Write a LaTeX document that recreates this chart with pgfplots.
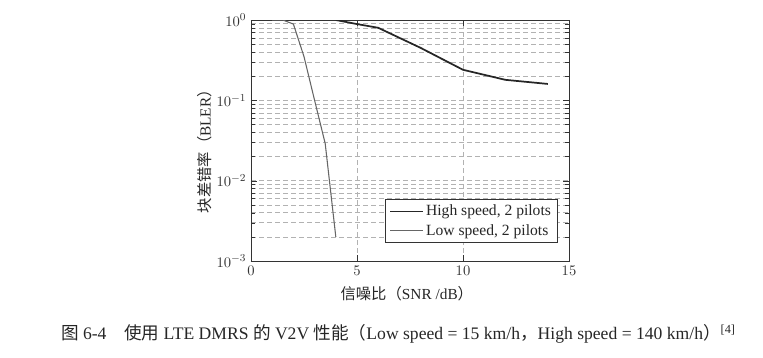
\documentclass[border=0pt]{standalone}
\usepackage{pgfplots}
\pgfplotsset{compat=1.18}
\usepackage{fontspec}
\setmainfont{Liberation Serif}
\newfontfamily\cjk{Noto Sans CJK SC}

\begin{document}
\begin{tikzpicture}
\useasboundingbox (-188.25pt,-72pt) rectangle (384pt,195.75pt);
\begin{axis}[
  scale only axis, width=238.5pt, height=180.75pt,
  at={(0,0)}, anchor=south west,
  xmin=0, xmax=15, ymin=1e-3, ymax=1,
  ymode=log,
  xtick={0,5,10,15},
  ytick={1e-3,1e-2,1e-1,1},
  tick align=inside,
  xmajorgrids, ymajorgrids, yminorgrids,
  major grid style={dash pattern=on 4pt off 2pt, black!30},
  minor grid style={dash pattern=on 4pt off 2pt, black!30},
  axis line style={black!80, line width=0.7pt},
  tick style={black!80},
  ticklabel style={font=\fontsize{11}{13}\selectfont, text=black!80},
  xlabel={{\cjk 信噪比（}SNR /dB{\cjk ）}},
  ylabel={{\cjk 块差错率（}BLER{\cjk ）}},
  label style={font=\fontsize{11.5}{13}\selectfont, text=black!85},
  xlabel style={at={(axis description cs:0.49,-0.137)}, anchor=center},
  ylabel style={at={(axis description cs:-0.145,0.47)}, anchor=center},
  legend style={at={(0.965,0.075)}, anchor=south east, draw=black!80,
    font=\fontsize{11.7}{13.5}\selectfont, text=black!85, row sep=1pt},
  legend cell align=left,
  legend image code/.code={\draw[#1] (0cm,0cm) -- (0.85cm,0cm);},
]
\addplot[black!85, line width=1.3pt] coordinates {
  (4,1) (5,0.89) (6,0.80) (8,0.45) (10,0.24) (12,0.18) (14,0.16)
};
\addlegendentry{High speed, 2 pilots}
\addplot[black!60, line width=0.8pt] coordinates {
  (1,1) (1.5,1) (2,0.89) (2.5,0.35) (3,0.10) (3.5,0.029) (4,0.002)
};
\addlegendentry{Low speed, 2 pilots}
\end{axis}
\node[anchor=west, font=\fontsize{13.2}{15}\selectfont, text=black!85] at (-146pt,-54.5pt)
  {{\cjk 图} 6-4\quad{\cjk 使用} LTE DMRS {\cjk 的} V2V {\cjk 性能（}Low speed = 15 km/h{\cjk ，}High speed = 140 km/h{\cjk ）}\textsuperscript{[4]}};
\end{tikzpicture}
\end{document}
